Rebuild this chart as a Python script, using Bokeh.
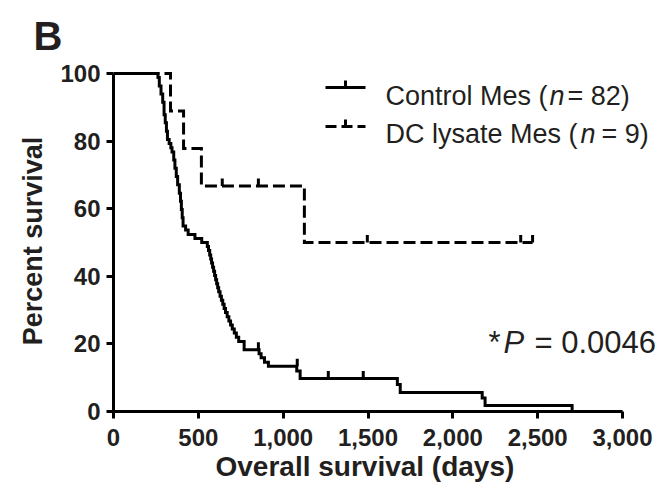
from bokeh.plotting import figure
from bokeh.models import Range1d, FixedTicker, NumeralTickFormatter, Label, Arrow, Title
from bokeh.embed import file_html
from bokeh.resources import INLINE

# ---------------- data ----------------
x_ticks = [0, 500, 1000, 1500, 2000, 2500, 3000]
y_ticks = [0, 20, 40, 60, 80, 100]

# Control Mes (n = 82): step times (days) and survival (%) after each step
ctrl_t = [0, 262, 270, 280, 290, 298, 305, 312, 318, 328,
          338, 345, 355, 362, 370, 378, 388, 395, 400, 405,
          410, 425, 440, 480, 520, 553, 560, 567, 573, 578,
          584, 590, 596, 602, 608, 614, 620, 628, 636, 644,
          652, 660, 670, 680, 690, 700, 712, 724, 738, 770,
          858, 870, 890, 913, 1080, 1100, 1673, 1690, 2173, 2190,
          2703]
ctrl_s = [100, 98.8, 96.3, 93.9, 91.5, 87.8, 85.4, 82.9, 80.5, 79.3,
          78.0, 76.8, 74.4, 72.0, 69.5, 67.1, 64.6, 62.2, 59.8, 57.3,
          54.9, 53.7, 52.4, 51.2, 50.0, 48.8, 47.6, 46.3, 45.1, 43.9,
          42.7, 41.5, 40.2, 39.0, 37.8, 36.6, 35.4, 34.1, 32.9, 31.7,
          30.5, 29.3, 28.0, 26.8, 25.6, 24.4, 23.2, 22.0, 20.7, 18.3,
          17.1, 15.9, 14.6, 13.4, 12.0, 9.8, 8.0, 5.6, 4.0, 1.8,
          0]
ctrl_cens_t = [854, 1083, 1266, 1472]
ctrl_cens_s = [18.3, 13.4, 9.8, 9.8]

# DC lysate Mes (n = 9)
dc_t = [0, 336, 413, 518, 1125, 2470]
dc_s = [100, 88.9, 77.8, 66.7, 50.0, 50.0]
dc_cens_t = [641, 854, 1496, 2400, 2470]
dc_cens_s = [66.7, 66.7, 50.0, 50.0, 50.0]

legend_labels = [("Control Mes (", "n", "= 82)"), ("DC lysate Mes (", "n", "= 9)")]
p_text = ("*", "P", "= 0.0046")

# ---------------- style / layout ----------------
FONT = "Liberation Sans"
INK = "#231f20"
W, H = 664, 491
LEFT, TOP, BOTTOM = 113, 70, 80          # frame: x 113..664, y 70..411
PX_PER_DAY = 509 / 3000
PX_PER_PCT = 338 / 100
LW = 3
TICK = 2.2  # censor tick height (percent units)

x_end = 3000 + (W - LEFT - 509) / PX_PER_DAY
y_end = 100 + (H - BOTTOM - TOP - 338) / PX_PER_PCT

p = figure(width=W, height=H, output_backend="svg", toolbar_location=None,
           x_range=Range1d(0, x_end), y_range=Range1d(0, y_end),
           min_border_left=LEFT, min_border_right=0,
           min_border_top=TOP, min_border_bottom=BOTTOM)
p.background_fill_color = "white"
p.border_fill_color = "white"
p.outline_line_color = None
p.grid.visible = False

for ax in (p.xaxis[0], p.yaxis[0]):
    ax.axis_line_width = LW
    ax.axis_line_color = "black"
    ax.major_tick_line_width = LW
    ax.major_tick_line_color = "black"
    ax.major_tick_out = 7
    ax.major_tick_in = 0
    ax.minor_tick_line_color = None
    ax.major_label_text_font = FONT
    ax.major_label_text_font_style = "bold"
    ax.major_label_text_font_size = "24px"
    ax.major_label_text_color = INK

p.xaxis.ticker = FixedTicker(ticks=x_ticks)
p.xaxis.formatter = NumeralTickFormatter(format="0,0")
p.xaxis.bounds = (0, 3000)
p.xaxis.major_label_standoff = 10
p.yaxis.ticker = FixedTicker(ticks=y_ticks)
p.yaxis.bounds = (0, 100)
p.yaxis.major_label_standoff = 6
p.yaxis.axis_label = "Percent survival"
p.yaxis.axis_label_text_font = FONT
p.yaxis.axis_label_text_font_style = "bold"
p.yaxis.axis_label_text_font_size = "27px"
p.yaxis.axis_label_text_color = INK
p.yaxis.axis_label_standoff = 9

# x-axis title as a below title (so it can be centred on the axis, not the frame)
p.add_layout(Title(text="Overall survival (days)", align="left", offset=102,
                   text_font=FONT, text_font_style="bold", text_font_size="28px",
                   text_color=INK, standoff=5, vertical_align="top"), "below")

# panel letter
p.title.text = "B"
p.title.align = "left"
p.title.offset = 33 - LEFT
p.title.text_font = FONT
p.title.text_font_style = "bold"
p.title.text_font_size = "40px"
p.title.text_color = INK
p.title.standoff = 22
p.title.vertical_align = "top"

# curves
p.step(dc_t, dc_s, mode="after", line_width=LW, line_color="black",
       line_dash="12 5", line_join="miter")
p.segment(x0=dc_cens_t, y0=dc_cens_s, x1=dc_cens_t,
          y1=[s + TICK for s in dc_cens_s], line_width=LW, line_color="black")
p.step(ctrl_t, ctrl_s, mode="after", line_width=LW, line_color="black",
       line_join="miter")
p.segment(x0=ctrl_cens_t, y0=ctrl_cens_s, x1=ctrl_cens_t,
          y1=[s + TICK for s in ctrl_cens_s], line_width=LW, line_color="black")

# screen helpers: positions relative to the frame (left edge, bottom edge)
FB = H - BOTTOM
def sx(fig_x):
    return fig_x - LEFT
def sy(fig_y):
    return FB - fig_y

def lbl(x, y, text, size, style="normal", **kw):
    p.add_layout(Label(x=sx(x), y=sy(y), x_units="screen", y_units="screen", text=text,
                       text_font=FONT, text_font_style=style, text_font_size=f"{size}px",
                       text_baseline="alphabetic", text_color=INK, **kw))

# legend (manual)
FS = 27
def add_legend_row(y_line, y_base, dashed, parts, xs):
    kw = dict(start_units="screen", end_units="screen", end=None,
              line_width=LW, line_color="black")
    if dashed:
        kw["line_dash"] = "11 5"
    p.add_layout(Arrow(x_start=sx(325), y_start=sy(y_line), x_end=sx(365),
                       y_end=sy(y_line), **kw))
    kw.pop("line_dash", None)
    p.add_layout(Arrow(x_start=sx(345), y_start=sy(y_line), x_end=sx(345),
                       y_end=sy(y_line) + 7, **kw))
    a, n, b = parts
    lbl(xs[0], y_base, a, FS)
    lbl(xs[1], y_base, n, FS, "italic")
    lbl(xs[2], y_base, b, FS)

add_legend_row(87, 95, False, legend_labels[0], (385, 549, 567))
add_legend_row(126, 133, True, legend_labels[1], (385, 580, 601))

# P value
lbl(488, 342, p_text[0], 31)
lbl(503, 342, p_text[1], 31, "italic")
lbl(534, 342, p_text[2], 31)

open("out.html", "w").write(file_html(p, INLINE))
